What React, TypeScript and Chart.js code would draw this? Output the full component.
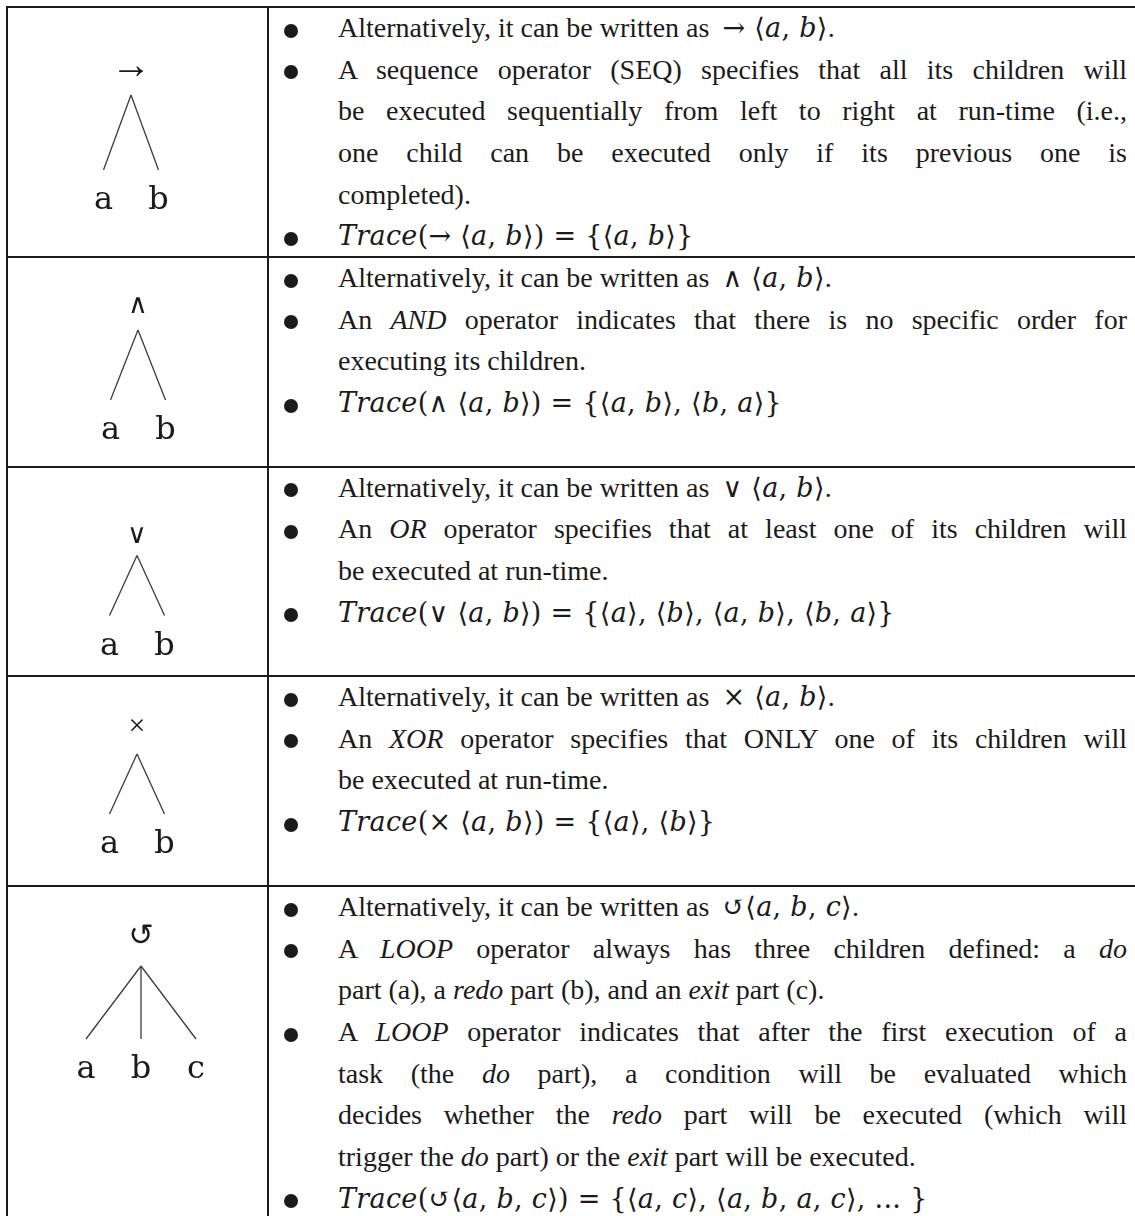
import React, { useEffect, useRef } from 'react';
import { Chart, registerables } from 'chart.js';

Chart.register(...registerables);

// ---------------- data ----------------
const operatorSymbols = ['→', '∧', '∨', '×', '↺'];
const operatorChildren = [
  ['a', 'b'],
  ['a', 'b'],
  ['a', 'b'],
  ['a', 'b'],
  ['a', 'b', 'c'],
];
const altForms = ['→ ⟨a, b⟩', '∧ ⟨a, b⟩', '∨ ⟨a, b⟩', '× ⟨a, b⟩', '↺⟨a, b, c⟩'];
const traces = [
  'Trace(→ ⟨a, b⟩) = {⟨a, b⟩}',
  'Trace(∧ ⟨a, b⟩) = {⟨a, b⟩, ⟨b, a⟩}',
  'Trace(∨ ⟨a, b⟩) = {⟨a⟩, ⟨b⟩, ⟨a, b⟩, ⟨b, a⟩}',
  'Trace(× ⟨a, b⟩) = {⟨a⟩, ⟨b⟩}',
  'Trace(↺⟨a, b, c⟩) = {⟨a, c⟩, ⟨a, b, a, c⟩, ... }',
];
type Line = { bullet: boolean; justify: boolean; text: string };
const descriptions: Line[][] = [
  [
    { bullet: true, justify: true, text: 'A sequence operator (SEQ) specifies that all its children will' },
    { bullet: false, justify: true, text: 'be executed sequentially from left to right at run-time (i.e.,' },
    { bullet: false, justify: true, text: 'one child can be executed only if its previous one is' },
    { bullet: false, justify: false, text: 'completed).' },
  ],
  [
    { bullet: true, justify: true, text: 'An _AND_ operator indicates that there is no specific order for' },
    { bullet: false, justify: false, text: 'executing its children.' },
  ],
  [
    { bullet: true, justify: true, text: 'An _OR_ operator specifies that at least one of its children will' },
    { bullet: false, justify: false, text: 'be executed at run-time.' },
  ],
  [
    { bullet: true, justify: true, text: 'An _XOR_ operator specifies that ONLY one of its children will' },
    { bullet: false, justify: false, text: 'be executed at run-time.' },
  ],
  [
    { bullet: true, justify: true, text: 'A _LOOP_ operator always has three children defined: a _do_' },
    { bullet: false, justify: false, text: 'part (a), a _redo_ part (b), and an _exit_ part (c).' },
    { bullet: true, justify: true, text: 'A _LOOP_ operator indicates that after the first execution of a' },
    { bullet: false, justify: true, text: 'task (the _do_ part), a condition will be evaluated which' },
    { bullet: false, justify: true, text: 'decides whether the _redo_ part will be executed (which will' },
    { bullet: false, justify: false, text: 'trigger the _do_ part) or the _exit_ part will be executed.' },
  ],
];

// ---------------- layout / style ----------------
const ROW_LINES = [7, 257, 466.5, 676, 886, 1240];
const LINE_H = 41.7;
const TEXT_LEFT = 338;
const TEXT_W = 789;
const COL_X = 268;
const INK = '#1c1a1b';
const BODY_PX = 28;
const MATH_PX = 27;
const TREE = [
  { x: 131, y: 95, leg: 75, sym: 28, font: '40px "Liberation Serif"' },
  { x: 138, y: 330, leg: 70, sym: 24, font: '27px "DejaVu Sans"' },
  { x: 137, y: 555, leg: 60, sym: 20, font: '27px "DejaVu Sans"' },
  { x: 137, y: 754, leg: 60, sym: 27, font: '30px "Liberation Serif"' },
  { x: 141, y: 966, leg: 73, sym: 29, font: '30px "DejaVu Sans"' },
];
const UX = 55;

const MATH_FONT = '"DejaVu Serif", "DejaVu Sans", serif';

function MathText({ s }: { s: string }) {
  const parts: { t: string; it: boolean }[] = [];
  for (const ch of Array.from(s)) {
    const it = /[A-Za-z]/.test(ch);
    const last = parts[parts.length - 1];
    if (last && last.it === it) last.t += ch;
    else parts.push({ t: ch, it });
  }
  return (
    <span style={{ fontFamily: MATH_FONT, fontSize: MATH_PX, whiteSpace: 'pre', letterSpacing: 0.3 }}>
      {parts.map((p, i) => (
        <span key={i} style={{ fontStyle: p.it ? 'italic' : 'normal' }}>
          {p.t}
        </span>
      ))}
    </span>
  );
}

function Rich({ text }: { text: string }) {
  const segs = text.split(/(_[^_]+_)/g).filter((x) => x.length > 0);
  return (
    <>
      {segs.map((sg, i) =>
        sg.startsWith('_') && sg.endsWith('_') ? (
          <i key={i}>{sg.slice(1, -1)}</i>
        ) : (
          <span key={i}>{sg}</span>
        )
      )}
    </>
  );
}

function Bullet() {
  return (
    <span
      style={{
        position: 'absolute',
        left: 291 - 7 - TEXT_LEFT,
        top: 16.5,
        width: 14,
        height: 14,
        borderRadius: '50%',
        background: INK,
      }}
    />
  );
}

function TextLine({ line }: { line: Line }) {
  return (
    <div
      style={{
        position: 'relative',
        height: LINE_H,
        lineHeight: LINE_H + 'px',
        width: TEXT_W,
        textAlign: line.justify ? 'justify' : 'left',
        textAlignLast: line.justify ? 'justify' : 'left',
        whiteSpace: 'normal',
      } as React.CSSProperties}
    >
      {line.bullet && <Bullet />}
      <Rich text={line.text} />
    </div>
  );
}

function TreeChart({ row }: { row: number }) {
  const ref = useRef<HTMLCanvasElement>(null);
  const top = ROW_LINES[row] + 1;
  const height = Math.round(ROW_LINES[row + 1] - ROW_LINES[row] - 2);
  const left = 8;
  const width = COL_X - 1 - left;
  useEffect(() => {
    if (!ref.current) return;
    const kids = operatorChildren[row];
    const sym = operatorSymbols[row];
    const geo = TREE[row];
    const n = kids.length;
    const mid = (n - 1) / 2;
    const cx = geo.x - left;
    const cy = geo.y - top;
    const xmin = mid - cx / UX;
    const xmax = xmin + width / UX;
    const ymax = 1 + cy / geo.leg;
    const ymin = ymax - height / geo.leg;
    const datasets = kids.map((_, i) => ({
      data: [
        { x: mid, y: 1 },
        { x: i, y: 0 },
      ],
      showLine: true,
      borderColor: '#3d3b3c',
      borderWidth: 1.3,
      pointRadius: 0,
      fill: false,
    }));
    const labelPlugin = {
      id: 'treeLabels' + row,
      afterDatasetsDraw(chart: any) {
        const ctx = chart.ctx as CanvasRenderingContext2D;
        const xs = chart.scales.x;
        const ys = chart.scales.y;
        ctx.save();
        ctx.fillStyle = INK;
        ctx.textAlign = 'center';
        ctx.textBaseline = 'middle';
        ctx.font = geo.font;
        ctx.fillText(sym, xs.getPixelForValue(mid), ys.getPixelForValue(1) - geo.sym);
        ctx.textBaseline = 'alphabetic';
        ctx.font = '32px "DejaVu Serif"';
        kids.forEach((k, i) => {
          ctx.fillText(k, xs.getPixelForValue(i), ys.getPixelForValue(0) + 39);
        });
        ctx.restore();
      },
    };
    const chart = new Chart(ref.current, {
      type: 'scatter',
      data: { datasets: datasets as any },
      options: {
        animation: false,
        responsive: false,
        maintainAspectRatio: false,
        events: [],
        layout: { padding: 0 },
        plugins: { legend: { display: false }, tooltip: { enabled: false }, title: { display: false } },
        scales: {
          x: { type: 'linear', display: false, min: xmin, max: xmax },
          y: { type: 'linear', display: false, min: ymin, max: ymax },
        },
      },
      plugins: [labelPlugin],
    });
    return () => chart.destroy();
  }, [row]);
  return (
    <canvas
      ref={ref}
      width={width}
      height={height}
      style={{ position: 'absolute', left, top, width, height }}
    />
  );
}

export default function App() {
  const rows = operatorSymbols.map((_, r) => r);
  return (
    <div
      style={{
        position: 'absolute',
        left: 0,
        top: 0,
        width: 1135,
        height: 1216,
        overflow: 'hidden',
        background: '#ffffff',
        color: INK,
        fontFamily: '"Liberation Serif", "Times New Roman", serif',
        fontSize: BODY_PX,
      }}
    >
      {ROW_LINES.slice(0, 5).map((y, i) => (
        <div
          key={'h' + i}
          style={{ position: 'absolute', left: 5.5, top: y - 1, width: 1140, height: 2, background: INK }}
        />
      ))}
      <div style={{ position: 'absolute', left: 5.5, top: 6, width: 2, height: 1230, background: INK }} />
      <div style={{ position: 'absolute', left: COL_X - 1, top: 6, width: 2, height: 1230, background: INK }} />
      {rows.map((r) => (
        <TreeChart key={'t' + r} row={r} />
      ))}
      {rows.map((r) => (
        <div key={'c' + r} style={{ position: 'absolute', left: TEXT_LEFT, top: ROW_LINES[r], width: TEXT_W }}>
          <TextLine line={{ bullet: true, justify: false, text: '' }} />
          <div style={{ position: 'absolute', left: 0, top: 0, lineHeight: LINE_H + 'px', whiteSpace: 'nowrap' }}>
            {'Alternatively, it can be written as '}
            <span style={{ marginLeft: 6 }}>
              <MathText s={altForms[r]} />
            </span>
            .
          </div>
          {descriptions[r].map((ln, i) => (
            <TextLine key={i} line={ln} />
          ))}
          <div style={{ position: 'relative', height: LINE_H, lineHeight: LINE_H + 'px', whiteSpace: 'nowrap' }}>
            <Bullet />
            <MathText s={traces[r]} />
          </div>
        </div>
      ))}
    </div>
  );
}
